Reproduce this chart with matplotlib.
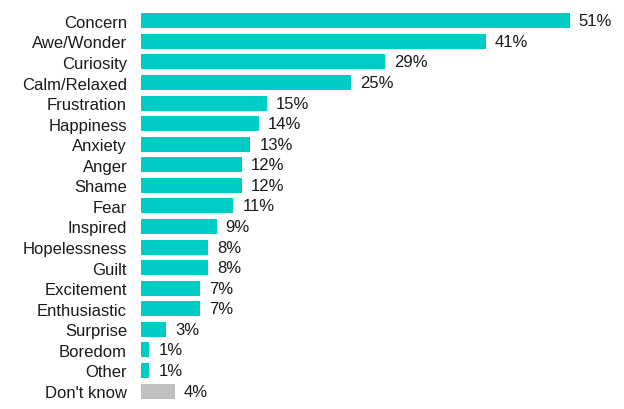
import matplotlib

matplotlib.use("Agg")
import matplotlib.pyplot as plt

# ------------------------------------------------------------
# Data
# ------------------------------------------------------------
categories = [
    "Concern", "Awe/Wonder", "Curiosity", "Calm/Relaxed", "Frustration",
    "Happiness", "Anxiety", "Anger", "Shame", "Fear", "Inspired",
    "Hopelessness", "Guilt", "Excitement", "Enthusiastic", "Surprise",
    "Boredom", "Other", "Don't know",
]
values = [51, 41, 29, 25, 15, 14, 13, 12, 12, 11, 9, 8, 8, 7, 7, 3, 1, 1, 4]

TEAL = "#00CCC6"
GREY = "#BFBFBF"
colours = [TEAL] * (len(categories) - 1) + [GREY]

plt.rcParams["font.family"] = ["Liberation Sans", "DejaVu Sans"]

fig = plt.figure(figsize=(6.24, 4.10), dpi=100)
ax = fig.add_axes([141 / 624, 0.0188, 479 / 624, 0.953])

pos = list(range(len(categories)))
ax.barh(pos, values, height=0.73, color=colours)

for y, v in zip(pos, values):
    ax.annotate(
        f"{v}%",
        xy=(v, y),
        xytext=(6.5, 0),
        textcoords="offset points",
        va="center",
        ha="left",
        fontsize=12,
        color="#1a1a1a",
    )

ax.set_xlim(0, 57)
ax.set_ylim(len(categories) - 0.5, -0.5)
ax.set_yticks(pos)
ax.set_yticklabels(categories, fontsize=12, color="#1a1a1a")
ax.tick_params(axis="y", length=0, pad=10)
ax.set_xticks([])
for side in ax.spines.values():
    side.set_visible(False)

fig.savefig("out.png", dpi=100)
